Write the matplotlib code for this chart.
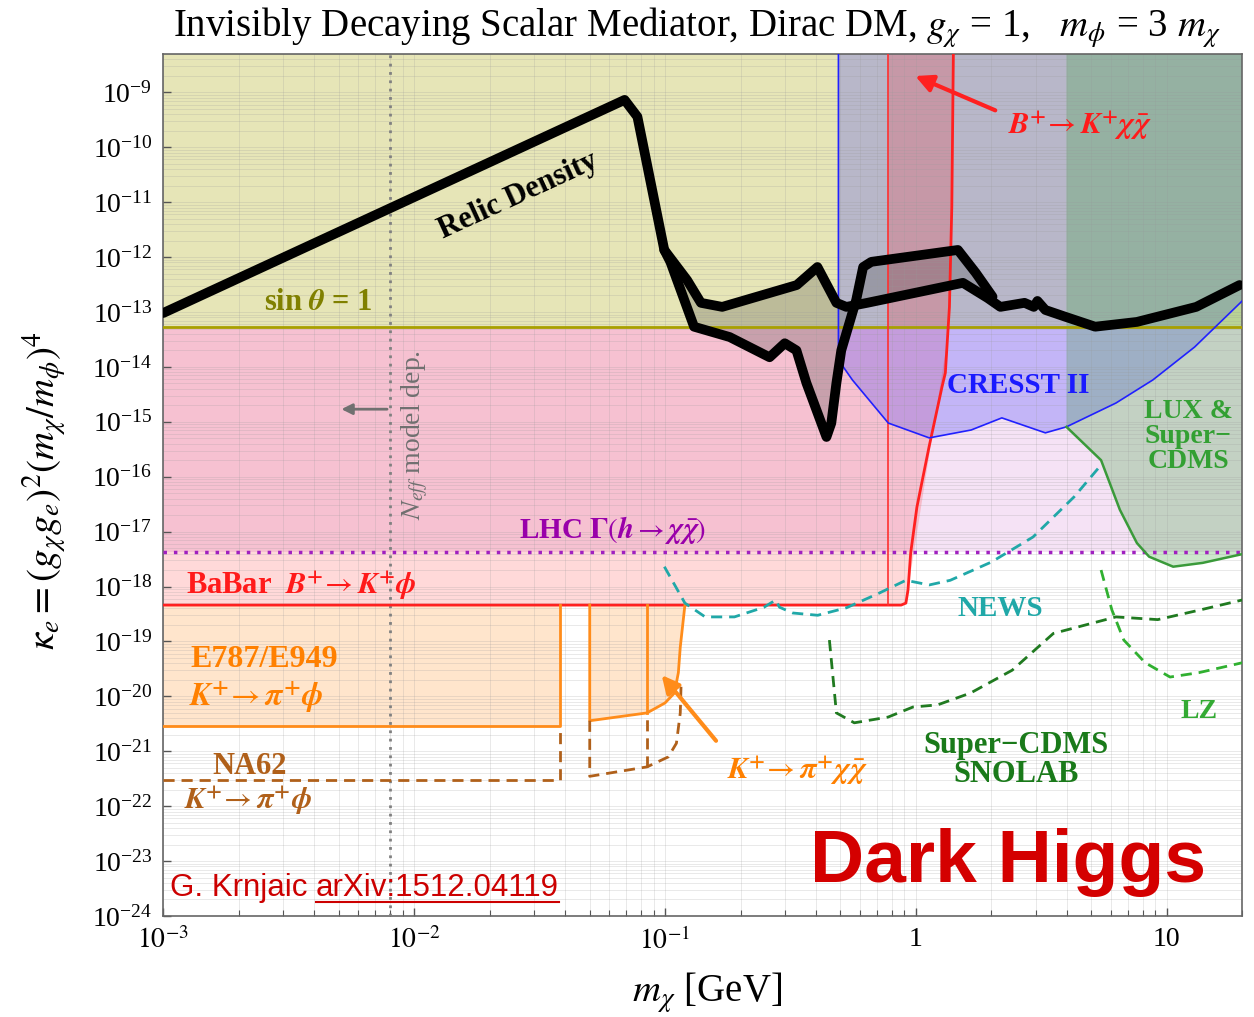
import numpy as np
import matplotlib.pyplot as plt
from matplotlib.ticker import LogLocator, FixedLocator, FixedFormatter, NullFormatter
from matplotlib.lines import Line2D

plt.rcParams['font.family'] = ['Liberation Serif', 'DejaVu Serif']
plt.rcParams['mathtext.fontset'] = 'stix'

x_lo, x_hi = 1e-3, 20.0
y_lo, y_hi = 1e-24, 5e-9

# flat bounds on kappa_e
sin_theta_max = 5.4e-14
lhc_h_inv = 4.2e-18
babar_kphi = 4.6e-19
e787_kphi = 2.9e-21
na62_kphi = 3.0e-22
neff_mass = 8e-3

# relic density, main branch
relic_m = [1e-3, 0.069, 0.0776, 0.0993, 0.1225, 0.139, 0.169, 0.335, 0.405, 0.482,
           0.528, 0.64, 1.54, 1.93, 2.17, 2.71, 2.95, 3.05, 3.28, 3.97, 5.18, 7.6, 13.1, 19.5]
relic_k = [9.6e-14, 7.3e-10, 3.6e-10, 1.35e-12, 3.8e-13, 1.47e-13, 1.24e-13, 3.1e-13, 6.6e-13, 1.47e-13,
           1.24e-13, 1.47e-13, 3.4e-13, 1.8e-13, 1.24e-13, 1.47e-13, 1.24e-13, 1.59e-13, 1.09e-13, 8.1e-14,
           5.4e-14, 6.6e-14, 1.24e-13, 3.1e-13]
# relic density, second branch
relic2_m = [0.0993, 0.105, 0.1305, 0.181, 0.261, 0.30, 0.334, 0.366, 0.44, 0.46, 0.482, 0.504,
            0.578, 0.616, 0.664, 1.47, 1.73, 2.02]
relic2_k = [1.35e-12, 8.2e-13, 5.4e-14, 3.5e-14, 1.5e-14, 2.7e-14, 2.0e-14, 5.1e-15, 5.3e-16, 9.5e-16,
            5.1e-15, 2.0e-14, 1.66e-13, 6.6e-13, 8.2e-13, 1.35e-12, 5.2e-13, 1.9e-13]

# CRESST II
cresst_m = [0.491, 0.558, 0.776, 1.13, 1.66, 2.2, 3.28, 3.98, 6.27, 8.8, 12.9, 20.0]
cresst_k = [1.34e-14, 5.8e-15, 9.5e-16, 5.1e-16, 7.1e-16, 1.18e-15, 6.3e-16, 8.1e-16, 2.2e-15,
            5.8e-15, 2.3e-14, 1.6e-13]

# LUX & SuperCDMS
lux_m = [3.98, 5.47, 6.5, 7.6, 8.5, 10.6, 13.9, 20.0]
lux_k = [8.1e-16, 2.0e-16, 2.5e-17, 6.2e-18, 3.5e-18, 2.3e-18, 2.7e-18, 3.9e-18]

# BaBar B+ -> K+ phi / B+ -> K+ chi chibar boundary
babar_m = [1e-3, 0.873, 0.912, 0.930, 0.953, 1.009, 1.128, 1.27, 1.31, 1.36, 1.39, 1.41]
babar_k = [4.6e-19, 4.6e-19, 5.0e-19, 8.7e-19, 4.1e-18, 2.8e-17, 3.5e-16, 4.3e-15, 7.8e-15,
           1.24e-13, 8.2e-12, 5e-9]
bkchi_edge = 0.773

# E787/E949 K+ -> pi+ phi and K+ -> pi+ chi chibar
e787_edge = 0.0381
e787b_m = [0.0501, 0.0848, 0.100, 0.109, 0.113, 0.115, 0.120]
e787b_k = [3.6e-21, 5.0e-21, 7.6e-21, 1.15e-20, 2.7e-20, 7.9e-20, 4.6e-19]

# NA62 projection
na62b_m = [0.0501, 0.0848, 0.103, 0.111, 0.115, 0.116]
na62b_k = [3.5e-22, 5.2e-22, 7.9e-22, 1.4e-21, 5.0e-21, 2.0e-20]

# projections
news_m = [0.0994, 0.12, 0.1445, 0.189, 0.248, 0.276, 0.286, 0.323, 0.406, 0.528, 0.714, 0.912,
          1.13, 1.37, 2.0, 2.93, 4.27, 5.47]
news_k = [2.3e-18, 5.0e-19, 2.8e-19, 2.8e-19, 4.2e-19, 5.7e-19, 4.2e-19, 3.3e-19, 3.0e-19,
          4.1e-19, 7.6e-19, 1.3e-18, 1.07e-18, 1.3e-18, 2.8e-18, 8.0e-18, 4.3e-17, 1.64e-16]
snolab_m = [0.452, 0.482, 0.568, 0.775, 0.973, 1.22, 1.65, 2.42, 3.53, 6.27, 9.2, 13.4, 20.0]
snolab_k = [1.06e-19, 5.0e-21, 3.3e-21, 4.2e-21, 6.4e-21, 7.0e-21, 1.15e-20, 3.0e-20, 1.4e-19,
            2.8e-19, 2.5e-19, 3.7e-19, 5.7e-19]
lz_m = [5.47, 6.04, 6.74, 8.2, 10.3, 13.4, 20.0]
lz_k = [2.0e-18, 3.75e-19, 1.06e-19, 4.1e-20, 2.25e-20, 2.7e-20, 4.1e-20]

fig = plt.figure(figsize=(12.54, 10.17), dpi=100)
ax = fig.add_axes([0.1302, 0.0993, 0.8605, 0.8476])
ax.set_xscale('log')
ax.set_yscale('log')
ax.set_xlim(x_lo, x_hi)
ax.set_ylim(y_lo, y_hi)

# shaded regions
ax.fill_between([x_lo, x_hi], lhc_h_inv, y_hi, color='#c040c0', alpha=0.15, lw=0, zorder=1)
ax.fill(babar_m + [x_lo], babar_k + [y_hi], color='#ff2020', alpha=0.17, lw=0, zorder=1)
ax.fill([x_lo, e787_edge, e787_edge, x_lo], [e787_kphi, e787_kphi, babar_kphi, babar_kphi],
        color='#ff8000', alpha=0.2, lw=0, zorder=1)
ax.fill(e787b_m + [e787b_m[0]], e787b_k + [babar_kphi], color='#ff8000', alpha=0.2, lw=0, zorder=1)
ax.fill_between([x_lo, x_hi], sin_theta_max, y_hi, color='#e6e5b7', lw=0, zorder=1.1)
ax.fill(cresst_m + [x_hi, cresst_m[0]], cresst_k + [y_hi, y_hi], color='#3030ff', alpha=0.25,
        lw=0, zorder=1.2)
# B+ -> K+ chi chibar band, visible above the sin(theta) = 1 line
ax.fill([bkchi_edge, bkchi_edge] + babar_m[:0:-1][:-2] + [babar_m[-3]],
        [sin_theta_max, y_hi] + babar_k[:0:-1][:-2] + [sin_theta_max],
        color='#ff2020', alpha=0.2, lw=0, zorder=1.2)
ax.fill([lux_m[0]] + lux_m + [x_hi], [y_hi] + lux_k + [y_hi], color='#30a030', alpha=0.25,
        lw=0, zorder=1.3)
sel = [i for i, m in enumerate(relic_m) if 0.0993 <= m <= 1.93]
ax.fill([relic_m[i] for i in sel] + relic2_m[::-1], [relic_k[i] for i in sel] + relic2_k[::-1],
        color='#404040', alpha=0.25, lw=0, zorder=1.4)

# boundaries
ax.axhline(sin_theta_max, color='#a8a000', lw=2, zorder=3)
ax.axhline(lhc_h_inv, color='#a020c0', lw=2.5, ls=(0, (1, 2)), zorder=3)
ax.axvline(neff_mass, color='#808080', lw=2, ls=(0, (1, 2)), zorder=3)
ax.plot(babar_m, babar_k, color='#ff2020', lw=2, zorder=3)
ax.plot([bkchi_edge, bkchi_edge], [babar_kphi, y_hi], color='#ff3030', lw=1.2, zorder=3)
ax.plot([cresst_m[0]] + cresst_m, [y_hi] + cresst_k, color='#2020ff', lw=1.2, zorder=3)
ax.plot(lux_m, lux_k, color='#3a9a3a', lw=1.8, zorder=3)
ax.plot([x_lo, e787_edge, e787_edge], [e787_kphi, e787_kphi, babar_kphi], color='#ff8c1a', lw=2, zorder=3)
ax.plot([e787b_m[0]] + e787b_m, [babar_kphi] + e787b_k, color='#ff8c1a', lw=2, zorder=3)
ax.plot([e787b_m[1], e787b_m[1]], [e787b_k[1], babar_kphi], color='#ff8c1a', lw=2, zorder=3)
na = dict(color='#b0601a', lw=2, ls=(0, (4, 2.5)), zorder=3)
ax.plot([x_lo, e787_edge, e787_edge], [na62_kphi, na62_kphi, e787_kphi], **na)
ax.plot([na62b_m[0]] + na62b_m, [e787b_k[0]] + na62b_k, **na)
ax.plot([na62b_m[1], na62b_m[1]], [na62b_k[1], e787b_k[1]], **na)
ax.plot(news_m, news_k, color='#20a8a8', lw=2, ls=(0, (4, 2.5)), zorder=3)
ax.plot(snolab_m, snolab_k, color='#207a20', lw=2, ls=(0, (4, 2.5)), zorder=3)
ax.plot(lz_m, lz_k, color='#30b030', lw=2, ls=(0, (4, 2.5)), zorder=3)
ax.plot(relic_m, relic_k, color='black', lw=7, solid_joinstyle='round', solid_capstyle='round', zorder=5)
ax.plot(relic2_m, relic2_k, color='black', lw=7, solid_joinstyle='round', solid_capstyle='round', zorder=5)

# arrows
ax.annotate('', xy=(0.971, 2.08e-9), xytext=(2.12, 4.5e-10),
            arrowprops=dict(arrowstyle='-|>', color='#ff2020', lw=3, mutation_scale=26), zorder=6)
ax.annotate('', xy=(0.0954, 2.67e-20), xytext=(0.1623, 1.42e-21),
            arrowprops=dict(arrowstyle='-|>', color='#ff8c1a', lw=3, mutation_scale=26), zorder=6)
ax.annotate('', xy=(5.0e-3, 1.7e-15), xytext=(neff_mass, 1.7e-15),
            arrowprops=dict(arrowstyle='-|>', color='#707070', lw=2, mutation_scale=16), zorder=6)

# labels
chibar = r'\mathbfit{\chi}\,\bar{\mathbfit{\chi}}'
lab = dict(transform=ax.transAxes, ha='center', va='center', fontweight='bold', zorder=7)
ax.text(0.1434, 0.7123, r'sin $\mathbfit{\theta}$ = 1', color='#808000', fontsize=22, **lab)
ax.text(0.3287, 0.8353, 'Relic Density', color='black', fontsize=22, rotation=24.7, **lab)
ax.text(0.021, 0.384, r'BaBar  $\mathbfit{B}^{\mathbf{+}}\!\rightarrow \mathbfit{K}^{\mathbf{+}}\mathbfit{\phi}$',
        color='#ff1a1a', fontsize=22, transform=ax.transAxes, ha='left', va='center',
        fontweight='bold', zorder=7)
ax.text(0.4159, 0.4478, r'LHC $\mathbf{\Gamma}(\mathbfit{h}\rightarrow ' + chibar + ')$',
        color='#9900aa', fontsize=21, **lab)
ax.text(0.0933, 0.2981, 'E787/E949', color='#ff8000', fontsize=23, **lab)
kpiphi = r'$\mathbfit{K}^{\mathbf{+}}\!\rightarrow \mathbfit{\pi}^{\mathbf{+}}\mathbfit{\phi}$'
ax.text(0.086, 0.254, kpiphi, color='#ff8000', fontsize=23, **lab)
ax.text(0.0803, 0.174, 'NA62', color='#b0601a', fontsize=22, **lab)
ax.text(0.0785, 0.1346, kpiphi, color='#b0601a', fontsize=22, **lab)
ax.text(0.7921, 0.616, 'CRESST II', color='#1a1aff', fontsize=21, **lab)
ax.text(0.9497, 0.5557, 'LUX &\nSuper\u2212\nCDMS', color='#33a033', fontsize=20,
        linespacing=1.0, **lab)
ax.text(0.7754, 0.3573, 'NEWS', color='#20a8a8', fontsize=21, **lab)
ax.text(0.9599, 0.2367, 'LZ', color='#33aa33', fontsize=20, **lab)
ax.text(0.79, 0.181, 'Super\u2212CDMS\nSNOLAB', color='#1a7a1a', fontsize=22, linespacing=1.0, **lab)
ax.text(0.5873, 0.1694, r'$\mathbfit{K}^{\mathbf{+}}\!\rightarrow \mathbfit{\pi}^{\mathbf{+}}' + chibar + '$',
        color='#ff8000', fontsize=22, **lab)
ax.text(0.8496, 0.9176, r'$\mathbfit{B}^{\mathbf{+}}\!\rightarrow \mathbfit{K}^{\mathbf{+}}' + chibar + '$',
        color='#ff1a1a', fontsize=22, **lab)
ax.text(0.2333, 0.558, r'$N_{eff}$ model dep.', color='#707070', fontsize=20, rotation=90,
        transform=ax.transAxes, ha='center', va='center', zorder=7)
ax.text(0.7829, 0.0626, 'Dark Higgs', color='#d40000', fontsize=54, fontweight='bold',
        family='Liberation Sans', transform=ax.transAxes, ha='center', va='center', zorder=7)
t1 = ax.text(0.0062, 0.0325, 'G. Krnjaic ', color='#cc0000', fontsize=22.5, family='Liberation Sans',
             transform=ax.transAxes, ha='left', va='center', zorder=7)

# axes styling
ax.xaxis.set_major_locator(FixedLocator([1e-3, 1e-2, 1e-1, 1, 10]))
ax.xaxis.set_major_formatter(FixedFormatter([r'$10^{-3}$', r'$10^{-2}$', r'$10^{-1}$', '1', '10']))
ax.xaxis.set_minor_locator(LogLocator(base=10, subs=np.arange(2, 10), numticks=50))
ax.xaxis.set_minor_formatter(NullFormatter())
ax.yaxis.set_major_locator(LogLocator(base=10, numticks=40))
ax.yaxis.set_minor_locator(LogLocator(base=10, subs=np.arange(2, 10), numticks=200))
ax.yaxis.set_minor_formatter(NullFormatter())
ax.tick_params(which='both', direction='in', top=False, right=False, labelsize=20, color='#555555')
ax.tick_params(which='major', length=6, width=1, pad=8)
ax.tick_params(axis='x', which='minor', length=4, width=0.8)
ax.tick_params(axis='y', which='minor', length=0)
ax.grid(True, which='both', color='#999999', alpha=0.25, lw=0.6)
ax.set_axisbelow('line')
for s in ax.spines.values():
    s.set_color('#666666')
    s.set_linewidth(1.2)

fig.text(0.556, 0.9725, r'Invisibly Decaying Scalar Mediator, Dirac DM, $g_\chi$ = 1,   $m_\phi$ = 3 $m_\chi$',
         ha='center', va='center', fontsize=28)
fig.text(0.0359, 0.518, r'$\kappa_e = (g_\chi g_e)^2 (m_\chi/m_\phi)^4$', rotation=90,
         ha='center', va='center', fontsize=28)
fig.text(0.5638, 0.0236, r'$m_\chi$ [GeV]', ha='center', va='center', fontsize=28)

# underlined arXiv reference next to the author name
fig.canvas.draw()
r = fig.canvas.get_renderer()
bb1 = t1.get_window_extent(r)
x2 = ax.transAxes.inverted().transform((bb1.x1, bb1.y0))[0]
t2 = ax.text(x2, 0.0325, 'arXiv:1512.04119', color='#cc0000', fontsize=22.5, family='Liberation Sans',
             transform=ax.transAxes, ha='left', va='center', zorder=7)
fig.canvas.draw()
bb2 = t2.get_window_extent(r)
fw, fh = fig.bbox.width, fig.bbox.height
fig.add_artist(Line2D([bb2.x0 / fw, bb2.x1 / fw], [(bb2.y0 + 1) / fh] * 2, color='#cc0000', lw=1.5))

fig.savefig('out.png', dpi=100)
